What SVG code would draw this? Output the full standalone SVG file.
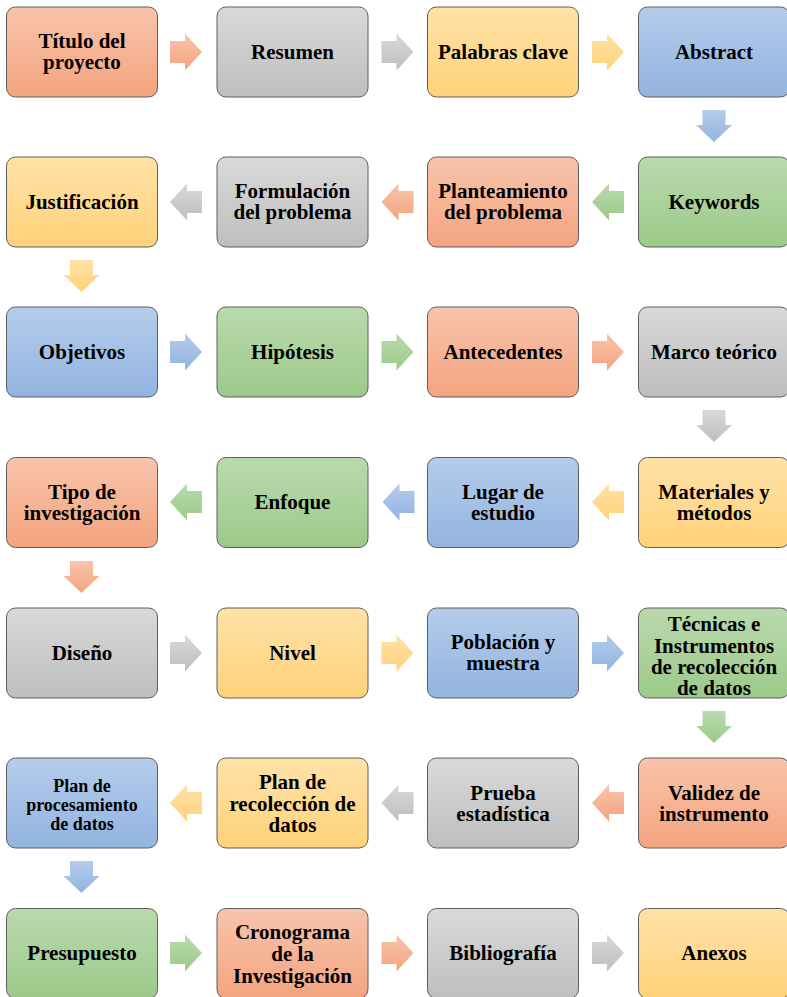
<svg xmlns="http://www.w3.org/2000/svg" width="787" height="997" viewBox="0 0 787 997">
  <defs>
    <!-- fill gradients, lighter at the top -->
    <linearGradient id="gOrange" x1="0" y1="0" x2="0" y2="1">
      <stop offset="0" stop-color="#F8C4AC"/>
      <stop offset="1" stop-color="#F4A47F"/>
    </linearGradient>
    <linearGradient id="gGray" x1="0" y1="0" x2="0" y2="1">
      <stop offset="0" stop-color="#D9D9D9"/>
      <stop offset="1" stop-color="#BEBEBE"/>
    </linearGradient>
    <linearGradient id="gYellow" x1="0" y1="0" x2="0" y2="1">
      <stop offset="0" stop-color="#FFE2A8"/>
      <stop offset="1" stop-color="#FFD27A"/>
    </linearGradient>
    <linearGradient id="gBlue" x1="0" y1="0" x2="0" y2="1">
      <stop offset="0" stop-color="#B5CCEB"/>
      <stop offset="1" stop-color="#92B4E0"/>
    </linearGradient>
    <linearGradient id="gGreen" x1="0" y1="0" x2="0" y2="1">
      <stop offset="0" stop-color="#BADAAD"/>
      <stop offset="1" stop-color="#9CC98A"/>
    </linearGradient>
    <!-- block arrows centred on the origin -->
    <path id="arrowRight" d="M-16,-11 H-1 V-18.5 L16,0 L-1,18.5 V11 H-16 Z"/>
    <path id="arrowDown" d="M-11.5,-16 H11.5 V-1 H18 L0,16 L-18,-1 H-11.5 Z"/>
  </defs>
  <style>
    .box { stroke: #5E5E5E; stroke-width: 1; }
    .orange { fill: url(#gOrange); }
    .gray { fill: url(#gGray); }
    .yellow { fill: url(#gYellow); }
    .blue { fill: url(#gBlue); }
    .green { fill: url(#gGreen); }
    text { font-family: "Liberation Serif", "Times New Roman", serif; font-weight: bold; font-size: 21px; fill: #000; text-anchor: middle; }
    text.small { font-size: 18px; }
  </style>

  <rect width="787" height="997" fill="#FFFFFF"/>

  <!-- connectors -->
  <g id="connectors">
    <!-- row 1, left to right -->
    <use href="#arrowRight" class="orange" transform="translate(186,52)"/>
    <use href="#arrowRight" class="gray" transform="translate(397.5,52)"/>
    <use href="#arrowRight" class="yellow" transform="translate(608,52)"/>
    <use href="#arrowDown" class="blue" transform="translate(714,126)"/>
    <!-- row 2, right to left -->
    <use href="#arrowRight" class="green" transform="translate(608,202) scale(-1,1)"/>
    <use href="#arrowRight" class="orange" transform="translate(397.5,202) scale(-1,1)"/>
    <use href="#arrowRight" class="gray" transform="translate(186,202) scale(-1,1)"/>
    <use href="#arrowDown" class="yellow" transform="translate(81.5,276)"/>
    <!-- row 3, left to right -->
    <use href="#arrowRight" class="blue" transform="translate(186,352)"/>
    <use href="#arrowRight" class="green" transform="translate(397.5,352)"/>
    <use href="#arrowRight" class="orange" transform="translate(608,352)"/>
    <use href="#arrowDown" class="gray" transform="translate(714,426)"/>
    <!-- row 4, right to left -->
    <use href="#arrowRight" class="yellow" transform="translate(608,502) scale(-1,1)"/>
    <use href="#arrowRight" class="blue" transform="translate(398.5,502) scale(-1,1)"/>
    <use href="#arrowRight" class="green" transform="translate(186,502) scale(-1,1)"/>
    <use href="#arrowDown" class="orange" transform="translate(81.5,577)"/>
    <!-- row 5, left to right -->
    <use href="#arrowRight" class="gray" transform="translate(186,653)"/>
    <use href="#arrowRight" class="yellow" transform="translate(397.5,653)"/>
    <use href="#arrowRight" class="blue" transform="translate(608,653)"/>
    <use href="#arrowDown" class="green" transform="translate(714,727)"/>
    <!-- row 6, right to left -->
    <use href="#arrowRight" class="orange" transform="translate(608,803) scale(-1,1)"/>
    <use href="#arrowRight" class="gray" transform="translate(397.5,803) scale(-1,1)"/>
    <use href="#arrowRight" class="yellow" transform="translate(186,803) scale(-1,1)"/>
    <use href="#arrowDown" class="blue" transform="translate(81.5,877)"/>
    <!-- row 7, left to right -->
    <use href="#arrowRight" class="green" transform="translate(186,953)"/>
    <use href="#arrowRight" class="orange" transform="translate(397.5,953)"/>
    <use href="#arrowRight" class="gray" transform="translate(608,953)"/>
  </g>

  <!-- row 1 -->
  <g id="titulo">
    <rect class="box orange" x="6.5" y="7" width="151" height="90" rx="9"/>
    <text x="82" y="48">Título del</text>
    <text x="82" y="69">proyecto</text>
  </g>
  <g id="resumen">
    <rect class="box gray" x="217" y="7" width="151" height="90" rx="9"/>
    <text x="292.5" y="58.5">Resumen</text>
  </g>
  <g id="palabras-clave">
    <rect class="box yellow" x="427.5" y="7" width="151" height="90" rx="9"/>
    <text x="503" y="58.5">Palabras clave</text>
  </g>
  <g id="abstract">
    <rect class="box blue" x="638.5" y="7" width="151" height="90" rx="9"/>
    <text x="714" y="58.5">Abstract</text>
  </g>

  <!-- row 2 -->
  <g id="keywords">
    <rect class="box green" x="638.5" y="157" width="151" height="90" rx="9"/>
    <text x="714" y="208.5">Keywords</text>
  </g>
  <g id="planteamiento">
    <rect class="box orange" x="427.5" y="157" width="151" height="90" rx="9"/>
    <text x="503" y="198">Planteamiento</text>
    <text x="503" y="219">del problema</text>
  </g>
  <g id="formulacion">
    <rect class="box gray" x="217" y="157" width="151" height="90" rx="9"/>
    <text x="292.5" y="198">Formulación</text>
    <text x="292.5" y="219">del problema</text>
  </g>
  <g id="justificacion">
    <rect class="box yellow" x="6.5" y="157" width="151" height="90" rx="9"/>
    <text x="82" y="208.5">Justificación</text>
  </g>

  <!-- row 3 -->
  <g id="objetivos">
    <rect class="box blue" x="6.5" y="307" width="151" height="90" rx="9"/>
    <text x="82" y="358.5">Objetivos</text>
  </g>
  <g id="hipotesis">
    <rect class="box green" x="217" y="307" width="151" height="90" rx="9"/>
    <text x="292.5" y="358.5">Hipótesis</text>
  </g>
  <g id="antecedentes">
    <rect class="box orange" x="427.5" y="307" width="151" height="90" rx="9"/>
    <text x="503" y="358.5">Antecedentes</text>
  </g>
  <g id="marco-teorico">
    <rect class="box gray" x="638.5" y="307" width="151" height="90" rx="9"/>
    <text x="714" y="358.5">Marco teórico</text>
  </g>

  <!-- row 4 -->
  <g id="materiales">
    <rect class="box yellow" x="638.5" y="457.5" width="151" height="90" rx="9"/>
    <text x="714" y="499">Materiales y</text>
    <text x="714" y="520">métodos</text>
  </g>
  <g id="lugar">
    <rect class="box blue" x="427.5" y="457.5" width="151" height="90" rx="9"/>
    <text x="503" y="499">Lugar de</text>
    <text x="503" y="520">estudio</text>
  </g>
  <g id="enfoque">
    <rect class="box green" x="217" y="457.5" width="151" height="90" rx="9"/>
    <text x="292.5" y="509">Enfoque</text>
  </g>
  <g id="tipo">
    <rect class="box orange" x="6.5" y="457.5" width="151" height="90" rx="9"/>
    <text x="82" y="499">Tipo de</text>
    <text x="82" y="520">investigación</text>
  </g>

  <!-- row 5 -->
  <g id="diseno">
    <rect class="box gray" x="6.5" y="608" width="151" height="90" rx="9"/>
    <text x="82" y="659.5">Diseño</text>
  </g>
  <g id="nivel">
    <rect class="box yellow" x="217" y="608" width="151" height="90" rx="9"/>
    <text x="292.5" y="659.5">Nivel</text>
  </g>
  <g id="poblacion">
    <rect class="box blue" x="427.5" y="608" width="151" height="90" rx="9"/>
    <text x="503" y="649">Población y</text>
    <text x="503" y="670">muestra</text>
  </g>
  <g id="tecnicas">
    <rect class="box green" x="638.5" y="608" width="151" height="90" rx="9"/>
    <text x="714" y="631">Técnicas e</text>
    <text x="714" y="652.5">Instrumentos</text>
    <text x="714" y="674">de recolección</text>
    <text x="714" y="695">de datos</text>
  </g>

  <!-- row 6 -->
  <g id="validez">
    <rect class="box orange" x="638.5" y="758" width="151" height="90" rx="9"/>
    <text x="714" y="799.5">Validez de</text>
    <text x="714" y="820.5">instrumento</text>
  </g>
  <g id="prueba">
    <rect class="box gray" x="427.5" y="758" width="151" height="90" rx="9"/>
    <text x="503" y="799.5">Prueba</text>
    <text x="503" y="820.5">estadística</text>
  </g>
  <g id="plan-recoleccion">
    <rect class="box yellow" x="217" y="758" width="151" height="90" rx="9"/>
    <text x="292.5" y="789">Plan de</text>
    <text x="292.5" y="810.5">recolección de</text>
    <text x="292.5" y="832">datos</text>
  </g>
  <g id="plan-procesamiento">
    <rect class="box blue" x="6.5" y="758" width="151" height="90" rx="9"/>
    <text class="small" x="82" y="792">Plan de</text>
    <text class="small" x="82" y="811">procesamiento</text>
    <text class="small" x="82" y="830">de datos</text>
  </g>

  <!-- row 7 -->
  <g id="presupuesto">
    <rect class="box green" x="6.5" y="908.5" width="151" height="90" rx="9"/>
    <text x="82" y="960">Presupuesto</text>
  </g>
  <g id="cronograma">
    <rect class="box orange" x="217" y="908.5" width="151" height="90" rx="9"/>
    <text x="292.5" y="939">Cronograma</text>
    <text x="292.5" y="961">de la</text>
    <text x="292.5" y="983">Investigación</text>
  </g>
  <g id="bibliografia">
    <rect class="box gray" x="427.5" y="908.5" width="151" height="90" rx="9"/>
    <text x="503" y="960">Bibliografía</text>
  </g>
  <g id="anexos">
    <rect class="box yellow" x="638.5" y="908.5" width="151" height="90" rx="9"/>
    <text x="714" y="960">Anexos</text>
  </g>
</svg>
